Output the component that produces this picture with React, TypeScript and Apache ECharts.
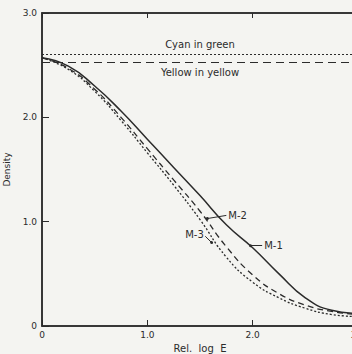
import React, { useEffect, useRef } from "react";
import * as echarts from "echarts";

const xs = [0, 0.25, 0.5, 0.75, 1.0, 1.25, 1.5, 1.75, 2.0, 2.25, 2.5, 2.75, 3.0];
const m1 = [2.57, 2.49, 2.3, 2.06, 1.79, 1.52, 1.25, 0.97, 0.75, 0.5, 0.27, 0.15, 0.12];
const m2 = [2.57, 2.47, 2.27, 2.0, 1.7, 1.4, 1.1, 0.76, 0.49, 0.31, 0.2, 0.14, 0.11];
const m3 = [2.57, 2.46, 2.25, 1.97, 1.66, 1.35, 1.02, 0.66, 0.42, 0.27, 0.17, 0.11, 0.09];
const cyanLevel = 2.6;
const yellowLevel = 2.53;
const refLabels = ["Cyan in green", "Yellow in yellow"];
const curveNames = ["M-1", "M-2", "M-3"];
const xTicks = ["0", "1.0", "2.0", "3.0"];
const yTicks = ["0", "1.0", "2.0", "3.0"];

const INK = "#2b2b2b";
const FONT = "DejaVu Sans";

function pairs(vals: number[]) {
  return xs.map((x, i) => [x, vals[i]]);
}

function leader(from: number[], to: number[], text: string, atStart: boolean) {
  return {
    silent: true,
    symbol: atStart ? ["none", "circle"] : ["circle", "none"],
    symbolSize: 3,
    lineStyle: { color: INK, width: 1, type: "solid" },
    label: {
      show: true,
      position: atStart ? "start" : "end",
      distance: 2,
      formatter: text,
      color: INK,
      fontSize: 10,
      fontFamily: FONT,
      ...(atStart ? { align: "right", verticalAlign: "middle" } : {}),
    },
    data: [[{ coord: from }, { coord: to }]],
  };
}

function refLine(level: number, text: string, pos: string, dash: number[]) {
  return {
    silent: true,
    symbol: "none",
    lineStyle: { color: INK, width: 1.2, type: dash },
    label: {
      show: true,
      position: pos,
      distance: 5,
      formatter: text,
      color: INK,
      fontSize: 10,
      fontFamily: FONT,
    },
    data: [{ yAxis: level }],
  };
}

export default function App() {
  const ref = useRef<HTMLDivElement>(null);
  useEffect(() => {
    if (!ref.current) return;
    const chart = echarts.init(ref.current, undefined, { renderer: "svg" });
    const lbl = (v: number) => {
      const i = Math.round(v);
      return v === i ? xTicks[i] : "";
    };
    const ylbl = (v: number) => {
      const i = Math.round(v);
      return v === i ? yTicks[i] : "";
    };
    chart.setOption({
      animation: false,
      backgroundColor: "#f4f4f1",
      textStyle: { fontFamily: FONT, color: INK },
      grid: {
        left: 42,
        top: 13,
        right: -6,
        bottom: 28,
        containLabel: false,
        outerBoundsMode: "none",
        show: true,
        borderColor: INK,
        borderWidth: 1.5,
        backgroundColor: "transparent",
      },
      xAxis: [
        {
          type: "value",
          min: 0,
          max: 3,
          interval: 1,
          name: "Rel.  log  E",
          nameLocation: "middle",
          nameGap: 14,
          nameTextStyle: { fontSize: 10, color: INK, fontFamily: FONT },
          axisLine: { show: true, lineStyle: { color: INK, width: 1.5 } },
          axisTick: { show: true, inside: true, length: 6, lineStyle: { color: INK } },
          axisLabel: { formatter: lbl, fontSize: 9, color: INK, margin: 4 },
          splitLine: { show: false },
        },
        {
          type: "value",
          position: "top",
          min: 0,
          max: 3,
          interval: 1,
          axisLine: { show: true, lineStyle: { color: INK, width: 1.5 } },
          axisTick: { show: true, inside: true, length: 5, lineStyle: { color: INK } },
          axisLabel: { show: false },
          splitLine: { show: false },
        },
      ],
      yAxis: {
        type: "value",
        min: 0,
        max: 3,
        interval: 1,
        name: "Density",
        nameLocation: "middle",
        nameGap: 22,
        nameRotate: 90,
        nameTextStyle: { fontSize: 9, color: INK, fontFamily: FONT },
        axisLine: { show: true, lineStyle: { color: INK, width: 1.5 } },
        axisTick: { show: true, inside: true, length: 7, lineStyle: { color: INK } },
        axisLabel: { formatter: ylbl, fontSize: 9, color: INK, margin: 5 },
        splitLine: { show: false },
      },
      series: [
        {
          type: "line",
          name: refLabels[0],
          data: [],
          symbol: "none",
          markLine: refLine(cyanLevel, refLabels[0], "insideMiddleTop", [2, 2]),
        },
        {
          type: "line",
          name: refLabels[1],
          data: [],
          symbol: "none",
          markLine: refLine(yellowLevel, refLabels[1], "insideMiddleBottom", [8, 5]),
        },
        {
          type: "line",
          name: curveNames[0],
          data: pairs(m1),
          smooth: true,
          symbol: "none",
          lineStyle: { color: INK, width: 1.5, type: "solid" },
          markLine: leader([1.98, 0.77], [2.09, 0.77], curveNames[0], false),
        },
        {
          type: "line",
          name: curveNames[1],
          data: pairs(m2),
          smooth: true,
          symbol: "none",
          lineStyle: { color: INK, width: 1.3, type: [6, 4] },
          markLine: leader([1.57, 1.03], [1.75, 1.06], curveNames[1], false),
        },
        {
          type: "line",
          name: curveNames[2],
          data: pairs(m3),
          smooth: true,
          symbol: "none",
          lineStyle: { color: INK, width: 1.3, type: [2, 2] },
          markLine: leader([1.55, 0.86], [1.61, 0.8], curveNames[2], true),
        },
      ],
    });
    return () => chart.dispose();
  }, []);
  return (
    <div
      ref={ref}
      style={{ position: "fixed", left: 0, top: 0, width: 352, height: 354 }}
    />
  );
}
